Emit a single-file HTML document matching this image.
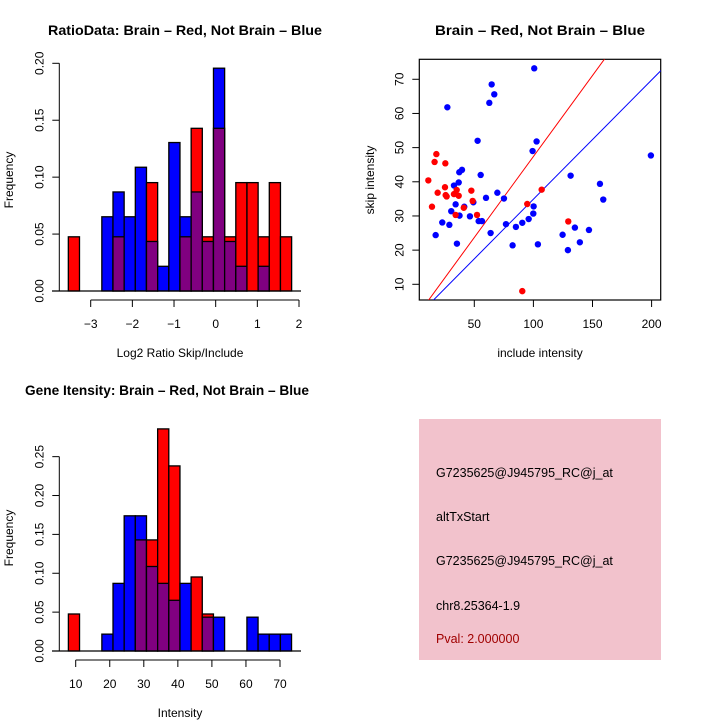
<!DOCTYPE html>
<html><head><meta charset="utf-8"><style>
html,body{margin:0;padding:0;background:#fff;}
svg{display:block;font-family:"Liberation Sans",Arial,sans-serif;}
</style></head><body>
<svg id="chart" width="720" height="720" viewBox="0 0 720 720">
<g id="p1"></g>
<g id="p2"></g>
<g id="p3"></g>
<g id="p4">
<rect x="419" y="419" width="242" height="241" fill="#f2c2cc"/>
<text x="436" y="477" font-size="12.5">G7235625@J945795_RC@j_at</text>
<text x="436" y="521" font-size="12.5">altTxStart</text>
<text x="436" y="565" font-size="12.5">G7235625@J945795_RC@j_at</text>
<text x="436" y="610" font-size="12.5">chr8.25364-1.9</text>
<text x="436" y="643" font-size="12.5" fill="#a00000">Pval: 2.000000</text>
</g>
</svg>
<script>
// ---- Histogram 1 data (log2 ratio) ----
const h1Start = -3.537;
const h1Width = 0.268;
const h1Red  = [0.0476,0,0,0,0.0476,0,0,0.0952,0,0,0.0476,0.1429,0.0476,0.1429,0.0476,0.0952,0.0952,0.0476,0.0952,0.0476];
const h1Blue = [0,0,0,0.0652,0.0870,0.0652,0.1087,0.0435,0.0217,0.1304,0.0652,0.0870,0.0435,0.1957,0.0435,0.0217,0,0.0217,0,0];
const h1XTicks = [-3,-2,-1,0,1,2];
const h1YTicks = ["0.00","0.05","0.10","0.15","0.20"];

// ---- Histogram 2 data (intensity) ----
const h2Start = 7.85;
const h2Width = 3.277;
const h2Red  = [0.0476,0,0,0,0,0,0.1429,0.1429,0.2857,0.2381,0,0.0952,0.0476,0,0,0,0,0,0,0];
const h2Blue = [0,0,0,0.0217,0.0870,0.1739,0.1739,0.1087,0.0870,0.0652,0.0870,0,0.0435,0.0435,0,0,0.0435,0.0217,0.0217,0.0217];
const h2XTicks = [10,20,30,40,50,60,70];
const h2YTicks = ["0.00","0.05","0.10","0.15","0.20","0.25"];

// ---- Scatter data ----
const blueX = [100.7,64.7,66.9,62.7,27.2,52.8,102.7,99.3,199.4,39.6,37.3,55.4,131.5,36.8,32.8,156.3,69.5,75.1,59.9,159.1,49.2,34.2,41.5,100.2,30.5,99.9,37.5,46.3,96.0,53.7,56.5,22.9,90.6,28.9,76.8,85.2,135.1,63.8,147.0,124.7,17.3,139.3,35.3,82.4,103.8,129.2];
const blueY = [73.2,68.5,65.6,63.1,61.8,52.0,51.8,49.0,47.7,43.5,42.8,42.0,41.8,39.8,38.9,39.4,36.8,35.1,35.3,34.8,34.0,33.4,32.7,32.8,31.4,30.7,30.1,29.9,29.1,28.5,28.5,28.1,28.0,27.4,27.6,26.8,26.6,25.0,25.9,24.5,24.4,22.3,21.9,21.4,21.7,20.0];
const redX = [17.9,16.4,25.5,11.1,25.2,19.0,35.1,47.5,25.8,26.6,32.8,36.8,107.0,48.6,14.2,41.1,34.2,52.3,94.8,129.5,90.6];
const redY = [48.1,45.8,45.4,40.4,38.4,36.8,37.6,37.4,36.1,35.7,36.4,35.9,37.7,34.4,32.7,32.4,30.3,30.3,33.5,28.4,8.0];
const lineSlopes = [0.474,0.349];
const scXTicks = [50,100,150,200];
const scYTicks = [10,20,30,40,50,60,70];

const NS = "http://www.w3.org/2000/svg";
function mk(parent, tag, attrs, text){
  const e = document.createElementNS(NS, tag);
  for (const k in attrs) e.setAttribute(k, attrs[k]);
  if (text !== undefined) e.textContent = text;
  parent.appendChild(e);
  return e;
}

function histogram(g, o){
  const sx = v => o.x0px + (v - o.x0v) * o.pxPerX;
  const sy = v => o.baseY - v * o.pxPerY;
  for (let i = 0; i < o.red.length; i++){
    const r = o.red[i], b = o.blue[i];
    const xl = sx(o.start + i*o.width), xr = sx(o.start + (i+1)*o.width);
    const mx = Math.max(r,b), mn = Math.min(r,b);
    if (mx > 0){
      const el = mk(g,'rect',{x:xl,y:sy(mx),width:xr-xl,height:sy(0)-sy(mx),fill:r>=b?'#ff0000':'#0000ff',stroke:'#000','stroke-width':1.3});
      
      
    }
    if (mn > 0){
      const el = mk(g,'rect',{x:xl,y:sy(mn),width:xr-xl,height:sy(0)-sy(mn),fill:'#800080',stroke:'#000','stroke-width':1.3});
      
      
    }
  }
  const bl = mk(g,'line',{x1:o.baseX1,x2:o.baseX2,y1:sy(0),y2:sy(0),stroke:'#000','stroke-width':1.3});
  
  
  const yTop = sy(parseFloat(o.yTicks[o.yTicks.length-1]));
  const ya = mk(g,'line',{x1:o.axisX,x2:o.axisX,y1:yTop,y2:sy(0),stroke:'#000','stroke-width':1});
  
  
  o.yTicks.forEach(t=>{
    const y = sy(parseFloat(t));
    mk(g,'line',{x1:o.axisX-7,x2:o.axisX,y1:y,y2:y,stroke:'#000'});
    const tl = mk(g,'text',{x:0,y:0,'font-size':12,'text-anchor':'middle',transform:`translate(${o.axisX-16},${y}) rotate(-90)`},t);
    
    
  });
  const xa = mk(g,'line',{x1:sx(o.xTicks[0]),x2:sx(o.xTicks[o.xTicks.length-1]),y1:o.xAxisY,y2:o.xAxisY,stroke:'#000','stroke-width':1});
  
  
  o.xTicks.forEach(t=>{
    const x = sx(t);
    mk(g,'line',{x1:x,x2:x,y1:o.xAxisY,y2:o.xAxisY+7,stroke:'#000'});
    const tl = mk(g,'text',{x:x,y:o.xAxisY+28,'font-size':12,'text-anchor':'middle'},String(t).replace('-','\u2212'));
    
    
  });
}

histogram(document.getElementById('p1'), {
  red:h1Red, blue:h1Blue, start:h1Start, width:h1Width,
  x0v:-3, x0px:90.7, pxPerX:41.66, baseY:291, pxPerY:1138.5,
  baseX1:52, baseX2:301, axisX:59.3, xAxisY:300,
  xTicks:h1XTicks, yTicks:h1YTicks
});
histogram(document.getElementById('p3'), {
  red:h2Red, blue:h2Blue, start:h2Start, width:h2Width,
  x0v:10, x0px:75.7, pxPerX:3.405, baseY:651, pxPerY:777.4,
  baseX1:52, baseX2:301, axisX:59.3, xAxisY:660,
  xTicks:h2XTicks, yTicks:h2YTicks
});

(function(){
  const g = document.getElementById('p2');
  const sx = v => 415.2 + v*1.182;
  const sy = v => 284.3 - (v-10)*3.417;
  const L=419.3,R=660.7,T=59.3,B=300;
  const clip = mk(g,'clipPath',{id:'scclip'});
  mk(clip,'rect',{x:L,y:T,width:R-L,height:B-T});
  const frame = mk(g,'rect',{x:L,y:T,width:R-L,height:B-T,fill:'none',stroke:'#000','stroke-width':1.2});
  
  
  const lc = ['#ff0000','#0000ff'];
  lineSlopes.forEach((s,i)=>{
    const el = mk(g,'line',{x1:sx(0),y1:sy(0),x2:sx(250),y2:sy(250*s),stroke:lc[i],'stroke-width':1,'clip-path':'url(#scclip)'});
    
    
  });
  blueX.forEach((x,i)=>{
    const el = mk(g,'circle',{cx:sx(x),cy:sy(blueY[i]),r:3.2,fill:'#0000ff'});
    
    
  });
  redX.forEach((x,i)=>{
    const el = mk(g,'circle',{cx:sx(x),cy:sy(redY[i]),r:3.2,fill:'#ff0000'});
    
    
  });
  scXTicks.forEach(t=>{
    const x=sx(t);
    mk(g,'line',{x1:x,x2:x,y1:B,y2:B+7,stroke:'#000'});
    const tl = mk(g,'text',{x:x,y:B+28,'font-size':12,'text-anchor':'middle'},String(t));
    
    
  });
  scYTicks.forEach(t=>{
    const y=sy(t);
    mk(g,'line',{x1:L-7,x2:L,y1:y,y2:y,stroke:'#000'});
    const tl = mk(g,'text',{x:0,y:0,'font-size':12,'text-anchor':'middle',transform:`translate(${L-16},${y}) rotate(-90)`},String(t));
    
    
  });
})();

(function(){
  const s = document.getElementById('chart');
  const items = [
    ['ratio-histogram-title',185,35,'RatioData: Brain \u2013 Red, Not Brain \u2013 Blue',true,0,274],
    ['scatter-title',540,35,'Brain \u2013 Red, Not Brain \u2013 Blue',true,0,210],
    ['gene-intensity-title',167,395,'Gene Itensity: Brain \u2013 Red, Not Brain \u2013 Blue',true,0,284],
    ['ratio-x-axis-title',180,357,'Log2 Ratio Skip/Include',false,0,0],
    ['scatter-x-axis-title',540,357,'include intensity',false,0,0],
    ['intensity-x-axis-title',180,717,'Intensity',false,0,0],
    ['ratio-y-axis-title',13,180,'Frequency',false,-90,0],
    ['scatter-y-axis-title',374,180,'skip intensity',false,-90,0],
    ['intensity-y-axis-title',13,538,'Frequency',false,-90,0]
  ];
  items.forEach(it=>{
    const a = {x:0,y:0,'font-size':it[4]?14:12,'text-anchor':'middle','font-weight':it[4]?'bold':'normal',
      transform:`translate(${it[1]},${it[2]}) rotate(${it[5]})`};
    if (it[6]) { a.textLength = it[6]; a.lengthAdjust = 'spacingAndGlyphs'; }
    const el = mk(s,'text',a,it[3]);
    
    
  });
})();
</script>
</body></html>
